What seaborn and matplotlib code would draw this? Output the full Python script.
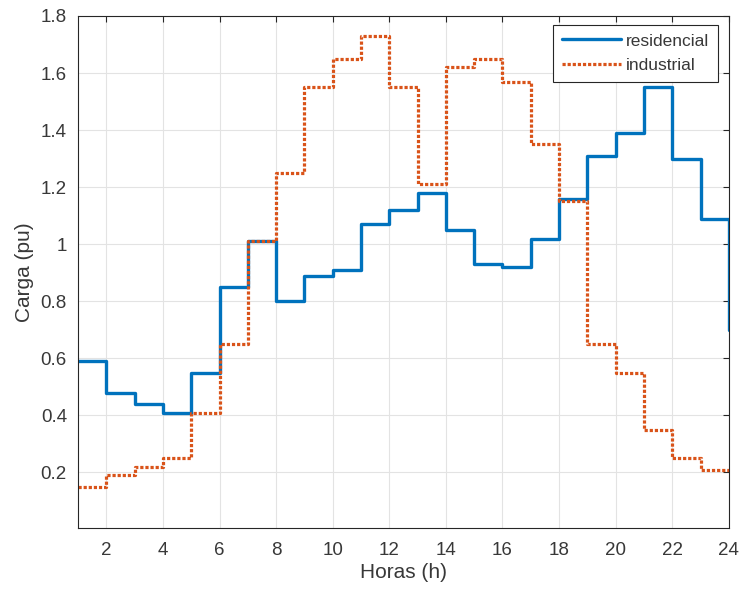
import numpy as np
import pandas as pd
import matplotlib
matplotlib.use("Agg")
import matplotlib.pyplot as plt
import seaborn as sns

horas = list(range(1, 25))
residencial = [0.59, 0.48, 0.44, 0.41, 0.55, 0.85, 1.01, 0.80, 0.89, 0.91, 1.07, 1.12,
               1.18, 1.05, 0.93, 0.92, 1.02, 1.16, 1.31, 1.39, 1.55, 1.30, 1.09, 0.70]
industrial = [0.15, 0.19, 0.22, 0.25, 0.41, 0.65, 1.01, 1.25, 1.55, 1.65, 1.73, 1.55,
              1.21, 1.62, 1.65, 1.57, 1.35, 1.15, 0.65, 0.55, 0.35, 0.25, 0.21, 0.20]
xticks = [2, 4, 6, 8, 10, 12, 14, 16, 18, 20, 22, 24]
yticks = [0.2, 0.4, 0.6, 0.8, 1.0, 1.2, 1.4, 1.6, 1.8]
ytick_labels = ["0.2", "0.4", "0.6", "0.8", "1", "1.2", "1.4", "1.6", "1.8"]

sns.set_theme(style="white")
plt.rcParams["font.family"] = ["Liberation Sans", "DejaVu Sans"]

df = pd.DataFrame({"hora": horas, "residencial": residencial, "industrial": industrial})

fig = plt.figure(figsize=(7.43, 5.92), dpi=100)
ax = fig.add_axes([0.105, 0.108, 0.876, 0.865])

sns.lineplot(data=df, x="hora", y="residencial", ax=ax, drawstyle="steps-post",
             color="#0072BD", linewidth=2.4, label="residencial", estimator=None)
sns.lineplot(data=df, x="hora", y="industrial", ax=ax, drawstyle="steps-post",
             color="#D95319", linewidth=2.3, linestyle=(0, (1.0, 0.6)),
             label="industrial", estimator=None)

ax.set_xlim(1, 24)
ax.set_ylim(0.005, 1.8)
ax.set_xticks(xticks)
ax.set_yticks(yticks)
ax.set_yticklabels(ytick_labels)
ax.grid(True, color="#e3e3e3", linewidth=0.8)
ax.set_axisbelow(True)

axis_color = "#262626"
text_color = "#383838"
for s in ax.spines.values():
    s.set_color(axis_color)
    s.set_linewidth(0.8)
ax.tick_params(axis="both", which="both", direction="in", length=4, width=0.8,
               colors=axis_color, labelcolor=text_color, labelsize=13.5,
               top=True, right=True, labeltop=False, labelright=False)
ax.tick_params(axis="x", pad=10)
ax.tick_params(axis="y", pad=8)

ax.set_xlabel("Horas (h)", fontsize=15, color=text_color, labelpad=3)
ax.set_ylabel("Carga (pu)", fontsize=15, color=text_color, labelpad=5)

leg = ax.legend(loc="upper right", bbox_to_anchor=(0.983, 0.983), fontsize=12.5,
                frameon=True, fancybox=False, framealpha=1, edgecolor="#262626",
                handlelength=3.4, handletextpad=0.3, borderpad=0.5, labelspacing=0.55,
                borderaxespad=0)
leg.get_frame().set_linewidth(0.8)
for t in leg.get_texts():
    t.set_color(text_color)

fig.savefig("out.png", dpi=100, facecolor="white")
